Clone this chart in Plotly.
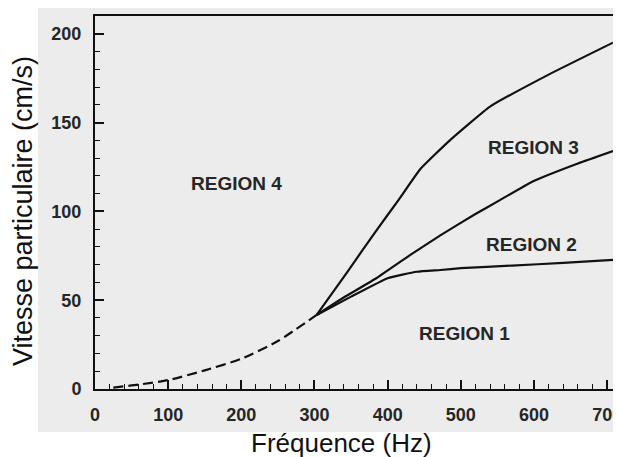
import plotly.graph_objects as go

# Data (frequency in Hz, particle velocity in cm/s)
freq_dashed = [25, 60, 100, 150, 200, 250, 303]
vel_dashed = [0.8, 2.5, 5, 10.5, 17, 27, 41.7]

freq_lower = [303, 350, 400, 440, 472, 500, 570, 640, 708]
vel_lower = [41.7, 52, 62.4, 66, 67, 68, 69.5, 71, 72.7]

freq_middle = [303, 340, 385, 431, 472, 520, 554, 599, 660, 708]
vel_middle = [41.7, 51.5, 62.5, 75.5, 86.5, 98.5, 106.5, 117, 127, 134]

freq_upper = [303, 345, 385, 415, 445, 485, 540, 620, 708]
vel_upper = [41.7, 66, 89.5, 106.5, 124, 140, 159, 177, 195]

region_labels = ["REGION 1", "REGION 2", "REGION 3", "REGION 4"]
region_x = [505, 597, 599, 193]
region_y = [31, 81.5, 136, 115.5]

x_tickvals = [0, 100, 200, 300, 400, 500, 600, 700]
y_tickvals = [0, 50, 100, 150, 200]

x_title = "Fréquence (Hz)"
y_title = "Vitesse particulaire (cm/s)"

fig = go.Figure()

fig.add_trace(go.Scatter(x=freq_dashed, y=vel_dashed, mode="lines",
                         line=dict(color="#111111", width=2.2, dash="10px,5px", shape="spline", smoothing=0.6),
                         showlegend=False, hoverinfo="skip"))
for fx, vy in [(freq_lower, vel_lower), (freq_middle, vel_middle), (freq_upper, vel_upper)]:
    fig.add_trace(go.Scatter(x=fx, y=vy, mode="lines",
                             line=dict(color="#111111", width=2.2, shape="spline", smoothing=0.4),
                             showlegend=False, hoverinfo="skip"))

for lab, lx, ly in zip(region_labels, region_x, region_y):
    fig.add_annotation(x=lx, y=ly, text=lab, showarrow=False,
                       font=dict(family="Liberation Sans", size=19, color="#262626", weight="bold"))

# axis titles
fig.add_annotation(xref="paper", yref="paper", x=0.4768, y=-0.1903,
                   xanchor="center", yanchor="bottom", text=x_title, showarrow=False,
                   font=dict(family="Liberation Sans", size=26, color="#111111"))
fig.add_annotation(xref="paper", yref="paper", x=-0.139, y=0.477,
                   xanchor="center", yanchor="middle", text=y_title, showarrow=False,
                   textangle=-90,
                   font=dict(family="Liberation Sans", size=27, color="#111111"))

# grey scanned background
fig.add_shape(type="rect", xref="paper", yref="paper",
              x0=-0.110, x1=1.02, y0=-0.1153, y1=1.03,
              fillcolor="#ececec", line=dict(width=0), layer="below")

axis_common = dict(
    showline=True, linecolor="#111111", linewidth=2, mirror=True,
    ticks="inside", tickcolor="#111111", tickwidth=1.5, ticklen=9,
    showgrid=False, zeroline=False,
    tickfont=dict(family="Liberation Sans", size=18, color="#262626", weight="bold"),
    ticklabelstandoff=8, ticklabeloverflow="allow",
)

fig.update_xaxes(range=[0, 708], tickvals=x_tickvals,
                 minor=dict(dtick=20, tick0=0, ticks="inside", ticklen=5, tickcolor="#111111", tickwidth=1.2),
                 **axis_common)
fig.update_yaxes(range=[0, 210], tickvals=y_tickvals,
                 minor=dict(dtick=10, tick0=0, ticks="inside", ticklen=5, tickcolor="#111111", tickwidth=1.2),
                 **axis_common)

# page body has an 8px margin: figure is offset by (8, 8) in the window
fig.update_layout(
    width=613, height=449,
    margin=dict(l=87, r=8, t=8, b=68, autoexpand=False),
    paper_bgcolor="white", plot_bgcolor="rgba(0,0,0,0)",
    showlegend=False,
)

fig.write_html("out.html")
